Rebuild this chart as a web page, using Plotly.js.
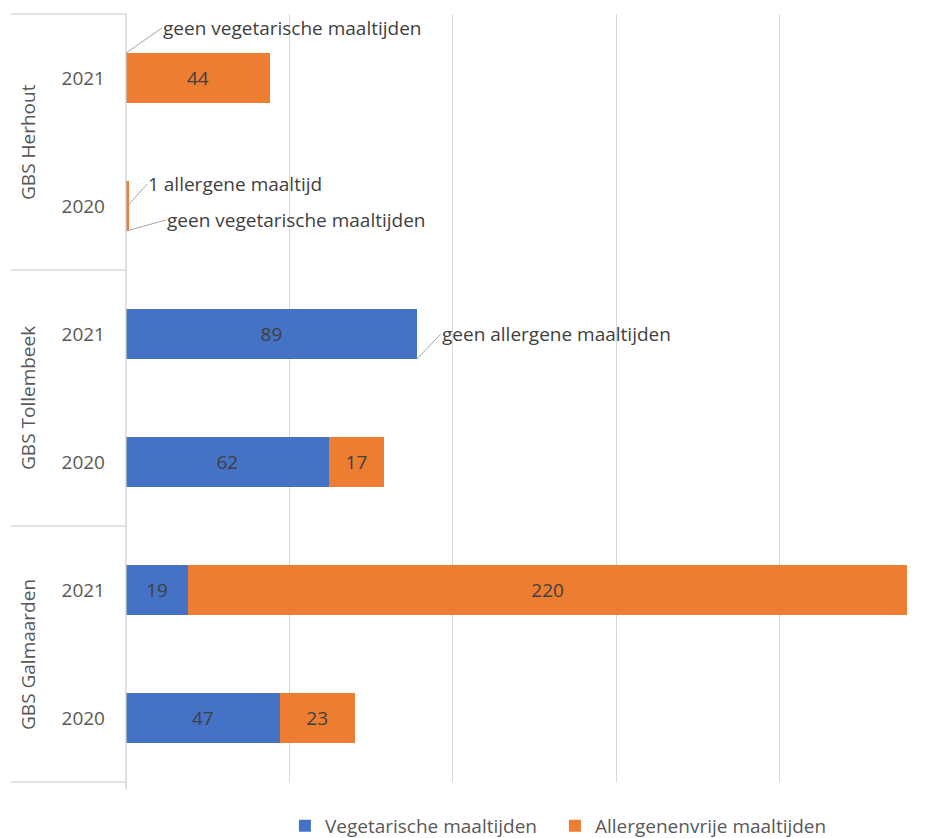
<!DOCTYPE html>
<html><head><meta charset="utf-8">
<script src="https://cdn.plot.ly/plotly-3.0.1.min.js"></script>
<style>html,body{margin:0;padding:0;background:#fff}</style>
</head><body><div id="chart" style="width:949px;height:838px"></div>
<script>
const schools = ['GBS Galmaarden','GBS Galmaarden','GBS Tollembeek','GBS Tollembeek','GBS Herhout','GBS Herhout'];
const years = ['2020','2021','2020','2021','2020','2021'];
const vegetarisch = [47, 19, 62, 89, 0, 0];
const allergenenvrij = [23, 220, 17, 0, 1, 44];
const seriesNames = ['Vegetarische maaltijden', 'Allergenenvrije maaltijden'];
const groupNames = ['GBS Galmaarden', 'GBS Tollembeek', 'GBS Herhout'];
const noteVeg = 'geen vegetarische maaltijden';
const noteAll0 = 'geen allergene maaltijden';
const noteAll1 = '1 allergene maaltijd';

const FONT = 'Open Sans, Liberation Sans, sans-serif';
const keys = schools.map((s, i) => s + ' ' + years[i]);
const lbl = v => (v > 1 ? String(v) : '');

const traces = [
  {type:'bar', orientation:'h', name: seriesNames[0], x: vegetarisch, y: keys,
   marker:{color:'#4472C4'}, text: vegetarisch.map(lbl), textposition:'inside',
   insidetextanchor:'middle', constraintext:'none', textangle:0,
   textfont:{family:FONT, size:19, color:'#404040'}, hoverinfo:'skip'},
  {type:'bar', orientation:'h', name: seriesNames[1], x: allergenenvrij, y: keys,
   marker:{color:'#ED7D31'}, text: allergenenvrij.map(lbl), textposition:'inside',
   insidetextanchor:'middle', constraintext:'none', textangle:0,
   textfont:{family:FONT, size:19, color:'#404040'}, hoverinfo:'skip'}
];

const noteStyle = {showarrow:true, arrowhead:0, arrowwidth:1, arrowcolor:'#a6a6a6',
  xanchor:'left', yanchor:'middle', borderpad:0,
  font:{family:FONT, size:19, color:'#404040'}, xref:'x', yref:'y'};
const annotations = [
  Object.assign({}, noteStyle, {x: vegetarisch[5], y: keys[5], yshift: 25, ax: 36, ay: -25, text: noteVeg}),
  Object.assign({}, noteStyle, {x: allergenenvrij[4], y: keys[4], yshift: 2, ax: 18, ay: -20, text: noteAll1}),
  Object.assign({}, noteStyle, {x: vegetarisch[4], y: keys[4], yshift: -25, ax: 40, ay: -11, text: noteVeg}),
  Object.assign({}, noteStyle, {x: vegetarisch[3] + allergenenvrij[3], y: keys[3], yshift: -25, ax: 24, ay: -25, text: noteAll0})
];
groupNames.forEach((g, i) => {
  annotations.push({text: g, xref:'paper', yref:'paper', x: -0.12, y: (i + 0.5) / 3,
    textangle: -90, showarrow:false, xanchor:'center', yanchor:'middle',
    font:{family:FONT, size:19, color:'#595959'}});
});

const shapes = [0, 1/3, 2/3, 1].map(p => ({type:'line', xref:'paper', yref:'paper',
  x0: -0.141, x1: 0, y0: p, y1: p, line:{color:'#d9d9d9', width:1.3}}));
shapes.push({type:'line', xref:'paper', yref:'paper', x0:0, x1:0, y0:-0.01, y1:1,
  line:{color:'#d0d0d0', width:1.3}});

const layout = {
  width: 949, height: 838,
  margin: {l:126, r:6, t:14, b:56, autoexpand:false},
  paper_bgcolor:'#fff', plot_bgcolor:'#fff',
  barmode:'stack', bargap: 0.61,
  showlegend: true,
  legend: {orientation:'h', x:0.525, xanchor:'center', y:-0.057, yanchor:'middle',
    font:{family:FONT, size:19, color:'#595959'}, itemwidth:30, entrywidth:225,
    traceorder:'normal'},
  xaxis: {range:[0, 250], dtick:50, tick0:0, showgrid:true, gridcolor:'#d9d9d9', gridwidth:1.3,
    showticklabels:false, zeroline:false, showline:false, ticks:'', fixedrange:true},
  yaxis: {type:'category', categoryorder:'array', categoryarray: keys,
    tickmode:'array', tickvals: keys, ticktext: years, showgrid:false, zeroline:false,
    showline:false, ticks:'', ticklabelstandoff: 20,
    tickfont:{family:FONT, size:19, color:'#595959'}, fixedrange:true},
  annotations, shapes
};
Plotly.newPlot('chart', traces, layout, {displayModeBar:false, staticPlot:true});
</script></body></html>
